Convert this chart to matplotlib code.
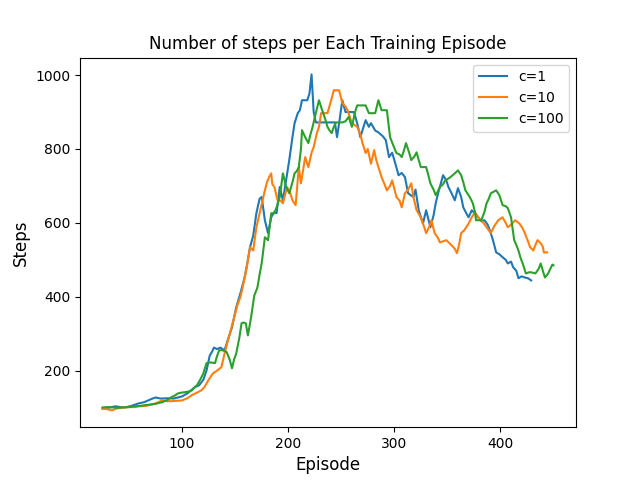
import matplotlib
matplotlib.use("Agg")
import matplotlib.pyplot as plt

# c=1 (blue)
ep_c1 = [25, 30, 37, 42, 46, 52, 59, 64, 68, 72, 75, 80, 87, 92, 96, 100, 105, 110, 112, 116,
         120, 123, 126, 128, 130, 133, 136, 140, 143, 147, 151, 155, 159, 162, 164, 167, 170, 173, 175, 178,
         181, 184, 187, 189, 192, 195, 197, 201, 204, 206, 209, 211, 213, 218, 220, 222, 224, 226, 232, 240,
         244, 246, 248, 251, 254, 258, 262, 265, 268, 271, 273, 276, 278, 282, 285, 289, 292, 295, 298, 301,
         304, 307, 310, 313, 318, 320, 323, 327, 330, 334, 337, 339, 342, 346, 349, 351, 354, 357, 360, 363,
         365, 368, 370, 373, 376, 379, 382, 385, 388, 390, 393, 396, 399, 402, 405, 407, 410, 412, 415, 417,
         420, 423, 426, 429]
steps_c1 = [97, 99, 103, 101, 100, 104, 111, 114, 119, 124, 127, 124, 125, 124, 127, 130, 138, 150, 155, 160,
            175, 200, 240, 250, 262, 258, 262, 255, 282, 317, 371, 410, 453, 500, 534, 565, 626, 665, 670, 607,
            572, 615, 630, 626, 697, 661, 697, 770, 832, 870, 897, 905, 932, 932, 950, 1002, 900, 872, 872, 872,
            872, 832, 870, 932, 900, 900, 900, 870, 832, 860, 878, 860, 870, 850, 845, 835, 824, 778, 790, 760,
            729, 735, 724, 680, 670, 690, 634, 598, 634, 588, 620, 653, 688, 729, 715, 697, 680, 661, 694, 670,
            642, 625, 615, 634, 625, 615, 605, 607, 595, 580, 553, 520, 515, 507, 500, 490, 495, 480, 470, 450,
            455, 452, 450, 444]

# c=10 (orange)
ep_c10 = [25, 30, 34, 38, 44, 50, 55, 59, 65, 72, 76, 81, 86, 90, 95, 100, 105, 109, 114, 118,
          121, 125, 129, 133, 137, 140, 143, 145, 149, 152, 155, 157, 161, 164, 167, 170, 173, 175, 178, 180,
          182, 184, 185, 187, 190, 193, 195, 197, 199, 202, 204, 207, 210, 212, 216, 219, 222, 224, 227, 229,
          231, 234, 237, 240, 243, 248, 251, 254, 256, 260, 265, 268, 270, 273, 275, 278, 281, 283, 285, 288,
          290, 293, 296, 298, 302, 305, 307, 310, 313, 316, 318, 321, 324, 326, 328, 330, 333, 335, 338, 341,
          343, 346, 349, 352, 354, 357, 359, 361, 363, 366, 370, 373, 376, 378, 381, 384, 387, 389, 391, 394,
          398, 402, 405, 407, 410, 414, 418, 421, 423, 426, 428, 431, 433, 435, 438, 440, 441, 444]
steps_c10 = [97, 95, 92, 97, 100, 101, 101, 103, 104, 108, 112, 119, 117, 117, 118, 119, 125, 133, 140, 146,
             155, 175, 192, 200, 209, 246, 280, 300, 344, 376, 400, 425, 480, 534, 525, 588, 626, 650, 688, 710,
             724, 734, 705, 697, 661, 660, 653, 675, 697, 680, 661, 648, 751, 707, 778, 751, 790, 805, 843, 860,
             897, 897, 897, 927, 959, 959, 924, 915, 905, 870, 860, 840, 816, 789, 800, 760, 797, 770, 751, 724,
             710, 688, 700, 715, 670, 660, 642, 680, 690, 707, 670, 634, 620, 607, 590, 572, 590, 607, 572, 560,
             547, 550, 553, 545, 539, 530, 518, 540, 572, 580, 598, 615, 629, 620, 607, 600, 588, 580, 572, 590,
             607, 615, 600, 588, 595, 607, 598, 585, 572, 550, 534, 525, 540, 553, 545, 535, 520, 520]

# c=100 (green)
ep_c100 = [25, 30, 35, 40, 44, 50, 55, 60, 65, 70, 75, 81, 86, 90, 93, 96, 99, 102, 106, 109,
           112, 114, 117, 120, 123, 127, 131, 133, 135, 138, 142, 145, 147, 149, 151, 154, 156, 158, 160, 162,
           165, 168, 171, 173, 175, 178, 181, 184, 187, 190, 192, 195, 198, 201, 204, 206, 208, 210, 212, 213,
           216, 219, 221, 223, 226, 229, 232, 235, 237, 239, 241, 243, 245, 251, 254, 257, 260, 263, 265, 270,
           273, 276, 282, 285, 288, 293, 296, 299, 302, 305, 307, 309, 311, 314, 316, 319, 321, 323, 325, 330,
           332, 334, 337, 339, 341, 343, 346, 348, 351, 353, 357, 360, 363, 365, 367, 370, 372, 374, 376, 377,
           382, 385, 387, 389, 391, 394, 396, 399, 402, 405, 407, 410, 413, 415, 417, 419, 421, 424, 427, 429,
           433, 436, 438, 440, 442, 445, 447, 449, 450]
steps_c100 = [100, 101, 100, 99, 100, 101, 103, 104, 106, 108, 110, 114, 120, 128, 132, 138, 140, 141, 143, 146,
              155, 160, 175, 192, 220, 222, 220, 240, 255, 255, 250, 228, 206, 230, 246, 290, 328, 330, 328, 295,
              344, 403, 425, 460, 490, 561, 553, 626, 626, 650, 670, 734, 697, 680, 710, 734, 740, 751, 800, 851,
              832, 816, 840, 860, 897, 932, 905, 880, 860, 850, 843, 860, 872, 872, 875, 887, 860, 900, 918, 918,
              918, 897, 897, 932, 905, 905, 832, 810, 789, 785, 778, 795, 816, 790, 770, 780, 791, 770, 751, 751,
              730, 707, 690, 675, 685, 697, 705, 715, 720, 724, 734, 742, 729, 710, 688, 675, 665, 653, 630, 607,
              607, 630, 653, 665, 680, 685, 688, 675, 648, 645, 640, 615, 553, 540, 525, 505, 490, 463, 466, 466,
              463, 475, 490, 470, 452, 463, 475, 487, 485]

fig, ax = plt.subplots(figsize=(6.4, 4.8), dpi=100)
ax.plot(ep_c1, steps_c1, label="c=1")
ax.plot(ep_c10, steps_c10, label="c=10")
ax.plot(ep_c100, steps_c100, label="c=100")
ax.set_title("Number of steps per Each Training Episode")
ax.set_xlabel("Episode", fontsize=12)
ax.set_ylabel("Steps", fontsize=12)
ax.legend(loc="upper right")
fig.savefig("out.png", dpi=100)
